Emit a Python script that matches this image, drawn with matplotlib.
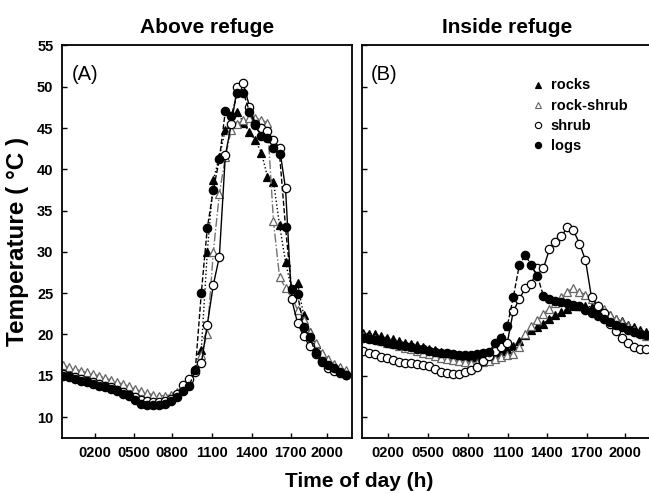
import numpy as np
import matplotlib
matplotlib.use("Agg")
import matplotlib.pyplot as plt
from matplotlib.lines import Line2D

plt.rcParams['font.family'] = ['Liberation Sans', 'DejaVu Sans']

# half-hourly readings, 48 per day
time_h = np.arange(48) * 0.5

tick_labels = ['0200', '0500', '0800', '1100', '1400', '1700', '2000']
ticks_A = [2.67, 5.93, 9.09, 12.42, 15.69, 18.94, 21.93]
ticks_B = [2.11, 5.39, 8.71, 12.04, 15.28, 18.60, 21.79]

# (A) above refuge
rocks_A = [15.8, 15.6, 15.4, 15.2, 15.0, 14.8, 14.6, 14.4, 14.2, 14.0,
           13.7, 13.4, 13.1, 12.8, 12.5, 12.3, 12.2, 12.2, 12.4, 12.8,
           13.4, 14.2, 15.8, 18.1, 30.0, 38.7, 41.5, 44.8, 45.5, 47.0,
           45.6, 44.5, 43.5, 42.0, 39.1, 38.5, 33.3, 28.8, 25.5, 26.2,
           22.4, 20.3, 18.8, 17.6, 16.9, 16.3, 15.9, 15.5]
rockshrub_A = [16.3, 16.0, 15.8, 15.6, 15.4, 15.2, 15.0, 14.7, 14.5, 14.2,
               14.0, 13.7, 13.4, 13.1, 12.9, 12.7, 12.6, 12.6, 12.7, 13.0,
               13.5, 14.5, 15.8, 17.5, 20.1, 30.0, 37.0, 41.5, 44.8, 45.5,
               46.0, 46.2, 46.2, 46.0, 45.6, 33.7, 27.0, 25.6, 24.5, 23.0,
               21.8, 20.3, 19.0, 17.8, 17.0, 16.4, 16.0, 15.7]
shrub_A = [15.2, 15.0, 14.8, 14.6, 14.4, 14.2, 14.0, 13.8, 13.6, 13.3,
           13.0, 12.7, 12.4, 12.1, 11.9, 11.8, 11.8, 11.9, 12.2, 12.8,
           13.9, 14.6, 15.4, 16.5, 21.2, 26.0, 29.4, 41.7, 45.5, 50.0,
           50.4, 47.6, 45.5, 45.0, 44.6, 43.5, 42.6, 37.7, 24.3, 21.4,
           19.8, 18.6, 17.6, 16.8, 15.9, 15.6, 15.3, 15.1]
logs_A = [15.0, 14.8, 14.6, 14.4, 14.2, 14.0, 13.8, 13.6, 13.4, 13.1,
          12.8, 12.5, 12.1, 11.6, 11.5, 11.5, 11.5, 11.6, 11.9, 12.4,
          13.1, 13.8, 15.7, 25.0, 32.9, 37.5, 41.2, 47.1, 46.5, 49.2,
          49.3, 47.0, 45.4, 44.0, 43.8, 42.6, 41.9, 33.0, 25.5, 24.9,
          20.9, 19.7, 17.8, 16.7, 16.3, 15.9, 15.5, 15.1]

# (B) inside refuge
rocks_B = [20.2, 20.1, 20.0, 19.8, 19.6, 19.4, 19.2, 19.0, 18.9, 18.7,
           18.5, 18.3, 18.1, 17.9, 17.7, 17.5, 17.4, 17.4, 17.3, 17.4,
           17.5, 17.6, 17.8, 18.0, 18.3, 18.6, 19.2, 19.9, 20.5, 20.9,
           21.3, 21.9, 22.3, 22.7, 23.1, 23.4, 23.5, 23.5, 23.3, 23.0,
           22.6, 22.3, 21.9, 21.6, 21.2, 20.9, 20.6, 20.3]
rockshrub_B = [19.8, 19.6, 19.4, 19.2, 19.0, 18.8, 18.6, 18.4, 18.2, 18.0,
               17.8, 17.6, 17.4, 17.2, 17.0, 16.9, 16.8, 16.7, 16.6, 16.6,
               16.7, 16.8, 17.0, 17.3, 17.5, 17.6, 18.5, 20.0, 21.0, 21.8,
               22.5, 23.1, 23.8, 24.5, 25.2, 25.6, 25.2, 24.8, 24.3, 23.6,
               23.1, 22.3, 21.9, 21.5, 21.0, 20.6, 20.2, 19.8]
shrub_B = [18.0, 17.8, 17.6, 17.3, 17.1, 16.9, 16.7, 16.6, 16.5, 16.4,
           16.3, 16.2, 15.8, 15.5, 15.3, 15.2, 15.2, 15.4, 15.7, 16.1,
           16.8, 17.4, 18.0, 18.5, 19.0, 22.8, 24.3, 25.6, 26.1, 28.1,
           28.0, 30.3, 31.2, 31.9, 33.0, 32.6, 31.0, 29.0, 24.5, 23.4,
           22.6, 21.3, 20.4, 19.6, 19.0, 18.5, 18.2, 18.2]
logs_B = [19.6, 19.5, 19.3, 19.2, 19.0, 18.9, 18.7, 18.6, 18.5, 18.3,
          18.2, 18.0, 17.9, 17.8, 17.7, 17.6, 17.5, 17.5, 17.5, 17.6,
          17.7, 17.9, 19.0, 19.6, 21.0, 24.5, 28.4, 29.6, 28.4, 27.1,
          24.7, 24.3, 24.1, 23.9, 23.8, 23.6, 23.4, 23.0, 22.6, 22.2,
          21.9, 21.5, 21.2, 20.9, 20.6, 20.3, 20.0, 19.9]

styles = {
    'rocks': dict(marker='^', ls=':', color='black', mfc='black', mec='black'),
    'rock-shrub': dict(marker='^', ls='-.', color='0.45', mfc='white', mec='0.4'),
    'shrub': dict(marker='o', ls='-', color='black', mfc='white', mec='black'),
    'logs': dict(marker='o', ls='--', color='black', mfc='black', mec='black'),
}


def draw_panel(ax, series, ticks):
    for name, vals in series:
        st = styles[name]
        ax.plot(time_h, vals, linestyle=st['ls'], color=st['color'], lw=1.0,
                marker=st['marker'], markersize=6, markerfacecolor=st['mfc'],
                markeredgecolor=st['mec'], markeredgewidth=0.9)
    ax.set_xlim(-0.1, 24.0)
    ax.set_ylim(7.5, 55)
    ax.set_yticks(range(10, 56, 5))
    ax.set_xticks(ticks)
    ax.set_xticklabels(tick_labels, fontweight='bold', fontsize=10.5)
    ax.tick_params(direction='in', length=3.5, width=1, pad=6)
    for sp in ax.spines.values():
        sp.set_linewidth(1.3)


fig = plt.figure(figsize=(6.49, 4.94), dpi=100)
axA = fig.add_axes([0.0951, 0.114, 0.4468, 0.794])
axB = fig.add_axes([0.5573, 0.114, 0.4468, 0.794])

draw_panel(axA, [('rocks', rocks_A), ('rock-shrub', rockshrub_A),
                 ('shrub', shrub_A), ('logs', logs_A)], ticks_A)
draw_panel(axB, [('rocks', rocks_B), ('rock-shrub', rockshrub_B),
                 ('shrub', shrub_B), ('logs', logs_B)], ticks_B)

for lab in axA.get_yticklabels():
    lab.set_fontweight('bold')
    lab.set_fontsize(10.5)
axB.set_yticklabels([])

axA.set_title('Above refuge', fontsize=15, fontweight='bold', pad=9)
axB.set_title('Inside refuge', fontsize=15, fontweight='bold', pad=9)
axA.text(0.035, 0.95, '(A)', transform=axA.transAxes, fontsize=14.5, va='top')
axB.text(0.03, 0.95, '(B)', transform=axB.transAxes, fontsize=14.5, va='top')

axA.set_ylabel('Temperature ( °C )', fontsize=17.5, fontweight='bold', labelpad=6)
fig.text(0.553, 0.006, 'Time of day (h)', ha='center', va='bottom',
         fontsize=15, fontweight='bold')

handles = []
for name in ['rocks', 'rock-shrub', 'shrub', 'logs']:
    st = styles[name]
    handles.append(Line2D([], [], linestyle='none', marker=st['marker'],
                          markersize=4.5, markerfacecolor=st['mfc'],
                          markeredgecolor=st['mec'], markeredgewidth=0.8,
                          label=name))
leg = axB.legend(handles=handles, loc='upper left', bbox_to_anchor=(0.57, 0.93),
                 frameon=False, handlelength=0.8, handletextpad=0.5,
                 labelspacing=0.45, borderaxespad=0)
for t in leg.get_texts():
    t.set_fontweight('bold')
    t.set_fontsize(10.5)

fig.savefig('out.png', dpi=100)
